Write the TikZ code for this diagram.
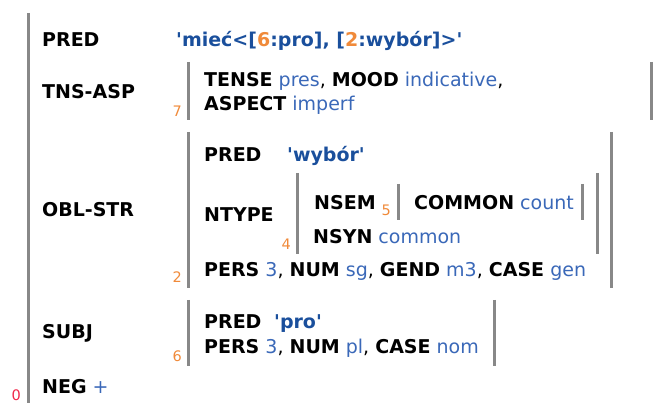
\documentclass[tikz,border=0pt]{standalone}
\usepackage{fontspec}
\setmainfont{DejaVu Sans}[Ligatures=TeXOff]
\usetikzlibrary{positioning}

\definecolor{predblue}{HTML}{1A4F9C}
\definecolor{valblue}{HTML}{3A68B8}
\definecolor{idxorange}{HTML}{F08A3A}
\definecolor{rootred}{HTML}{F0284A}
\definecolor{bargray}{HTML}{888888}

\newcommand{\atr}[1]{\textbf{#1}}
\newcommand{\val}[1]{\textcolor{valblue}{#1}}
\newcommand{\ix}[1]{\textcolor{idxorange}{#1}}

\tikzset{
  avm/.style={anchor=base west,inner sep=0pt,font=\fontsize{19}{22}\selectfont},
  attr/.style={avm,font=\fontsize{19}{22}\selectfont\bfseries},
  pval/.style={avm,font=\fontsize{19}{22}\selectfont\bfseries,text=predblue},
  idx/.style={anchor=base east,inner sep=0pt,text=idxorange,font=\fontsize{14.5}{16}\selectfont},
  bar/.style={line width=3pt,draw=bargray}
}

\begin{document}
\begin{tikzpicture}[x=1pt,y=-1pt]
\useasboundingbox (0,0) rectangle (659,403);
% Outer structure
\coordinate (o1) at (28,13);
\coordinate (o2) at (28,403);
\draw[bar] (o1) -- (o2);
\node[idx,text=rootred] (f0) at (21,400) {0};
\node[attr] (pred) at (42,47) {PRED};
\node[pval] (predv) at (176,47) {'mieć<[\ix{6}:pro], [\ix{2}:wybór]>'};
\node[attr] (tnsasp) at (42,99) {TNS-ASP};
\node[attr] (oblstr) at (42,217) {OBL-STR};
\node[attr] (subj) at (42,339) {SUBJ};
\node[avm] (neg) at (42,393) {\atr{NEG} \val{+}};

% TNS-ASP box
\draw[bar] (188,62) -- (188,120);
\draw[bar] (651,62) -- (651,120);
\node[idx] (f7) at (182,117) {7};
\node[avm] (tense) at (204,87) {\atr{TENSE} \val{pres}, \atr{MOOD} \val{indicative},};
\node[avm] (aspect) at (204,111) {\atr{ASPECT} \val{imperf}};

% OBL-STR box
\draw[bar] (188,132) -- (188,288);
\draw[bar] (611,132) -- (611,288);
\node[idx] (f2) at (182,283) {2};
\node[attr] (pred2) at (204,162) {PRED};
\node[pval] (pred2v) at (287,162) {'wybór'};
\node[attr] (ntype) at (204,222) {NTYPE};
\node[avm] (agr2) at (204,277) {\atr{PERS} \val{3}, \atr{NUM} \val{sg}, \atr{GEND} \val{m3}, \atr{CASE} \val{gen}};

% NTYPE box
\draw[bar] (297,173) -- (297,254);
\draw[bar] (597,173) -- (597,254);
\node[idx] (f4) at (291,250) {4};
\node[attr] (nsem) at (314,210) {NSEM};
\node[avm] (nsyn) at (313,244) {\atr{NSYN} \val{common}};

% NSEM box
\draw[bar] (398,184) -- (398,220);
\draw[bar] (582,184) -- (582,220);
\node[idx] (f5) at (391,216) {5};
\node[avm] (common) at (414,210) {\atr{COMMON} \val{count}};

% SUBJ box
\draw[bar] (188,300) -- (188,366);
\draw[bar] (494,300) -- (494,366);
\node[idx] (f6) at (182,362) {6};
\node[attr] (pred6) at (204,329) {PRED};
\node[pval] (pred6v) at (274,329) {'pro'};
\node[avm] (agr6) at (204,354) {\atr{PERS} \val{3}, \atr{NUM} \val{pl}, \atr{CASE} \val{nom}};
\end{tikzpicture}
\end{document}
